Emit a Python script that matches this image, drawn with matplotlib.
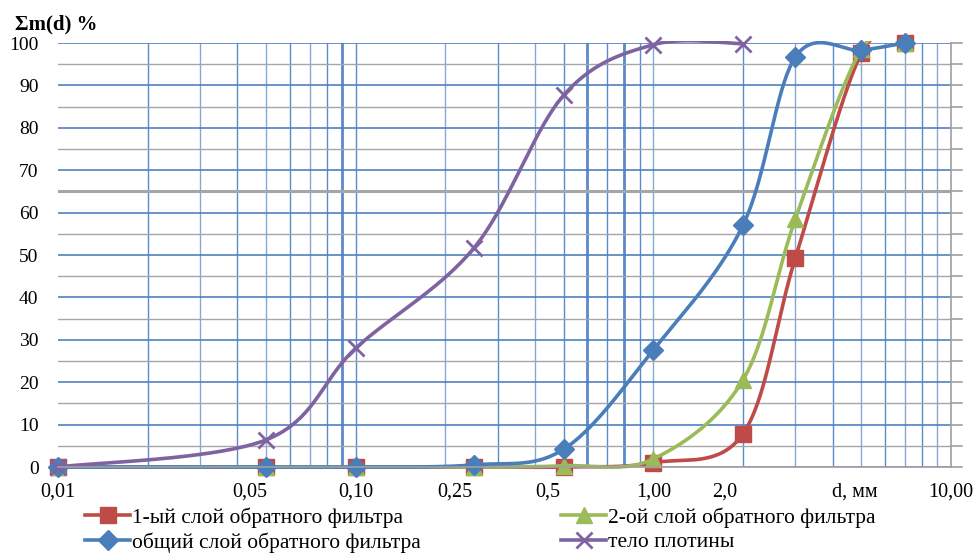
import numpy as np
import matplotlib.pyplot as plt
from matplotlib.lines import Line2D
from matplotlib.patches import Rectangle

plt.rcParams['font.family'] = ['Liberation Serif', 'DejaVu Serif']

# sieve sizes, mm
d = [0.01, 0.05, 0.10, 0.25, 0.5, 1.0, 2.0, 3.0, 5.0, 7.0]
layer1 = [0, 0, 0, 0, 0, 1.0, 7.8, 49.3, 97.6, 100]
layer2 = [0, 0, 0, 0, 0.3, 1.9, 20.5, 58.5, 98.5, 100]
common = [0, 0, 0, 0.5, 4.2, 27.6, 57.0, 96.7, 98.3, 100]
d_body = [0.01, 0.05, 0.10, 0.25, 0.5, 1.0, 2.0]
body = [0, 6.4, 28.0, 51.7, 87.7, 99.6, 99.8]

names = ["1-ый слой обратного фильтра", "общий слой обратного фильтра",
         "2-ой слой обратного фильтра", "тело плотины"]

xlab_pos = [0.01, 0.0442, 0.10, 0.2156, 0.4426, 1.0, 1.74, 4.76, 10.0]
xlab_txt = ["0,01", "0,05", "0,10", "0,25", "0,5", "1,00", "2,0", "d, мм", "10,00"]

RED, GREEN, BLUE, PURPLE = '#be4b48', '#9bbb59', '#4a7ebb', '#7f63a1'
GRID = '#5b8bc9'


def smooth(x, y, n=40):
    # excel-like smoothed line, built in screen-ish units
    u = (np.log10(x) + 2) / 3 * 893
    v = np.asarray(y, float) * 4.24
    p = np.column_stack([u, v])
    segs = []
    t = np.linspace(0, 1, n)[:, None]
    for i in range(len(p) - 1):
        p0 = p[max(i - 1, 0)]
        p1, p2 = p[i], p[i + 1]
        p3 = p[min(i + 2, len(p) - 1)]
        c1 = p1 + (p2 - p0) / 6
        c2 = p2 - (p3 - p1) / 6
        segs.append((1 - t) ** 3 * p1 + 3 * (1 - t) ** 2 * t * c1
                    + 3 * (1 - t) * t ** 2 * c2 + t ** 3 * p2)
    s = np.vstack(segs)
    return 10 ** (s[:, 0] / 893 * 3 - 2), s[:, 1] / 4.24


fig = plt.figure(figsize=(9.75, 5.53), dpi=100)
ax = fig.add_axes([58 / 975, 86 / 553, 893 / 975, 424 / 553])
ax.set_xscale('log')
ax.set_xlim(0.01, 10)
ax.set_ylim(0, 100)

# grid
ax.set_yticks(range(0, 101, 10))
ax.set_yticks(range(5, 100, 10), minor=True)
ax.yaxis.grid(True, which='major', color='#4f81bd', lw=1.2)
ax.yaxis.grid(True, which='minor', color='#a6a6a6', lw=1.0)
ax.axhline(65, color='#a6a6a6', lw=2.2, zorder=0.6)
vgrid = [k * 10.0 ** e for e in (-2, -1, 0) for k in range(1, 10)][1:]
for i, xv in enumerate(vgrid):
    ax.axvline(xv, color=GRID, lw=1.0, alpha=0.75 if i % 2 else 1.0, zorder=0.5)
for xv in (0.09, 0.6, 0.8):
    ax.axvline(xv, color=GRID, lw=2.0, zorder=0.5)
ax.set_axisbelow(True)

ax.set_xticks(xlab_pos, labels=xlab_txt)
ax.xaxis.set_minor_locator(plt.NullLocator())
ax.tick_params(axis='x', length=0, pad=11, labelsize=14.5)
ax.tick_params(axis='y', which='both', length=0, pad=14, labelsize=14)

for s in ('left', 'top'):
    ax.spines[s].set_visible(False)
for s in ('right', 'bottom'):
    ax.spines[s].set_color('#a0a0a0')
    ax.spines[s].set_linewidth(1.2)
for yv in range(0, 101, 5):
    ax.plot([1.0, 1.012], [yv, yv], transform=ax.get_yaxis_transform(),
            color='#a0a0a0', lw=1.2, clip_on=False)

# clip a little above the plot area so lines hugging 100 % stay visible
clip = Rectangle((0, -0.01), 1, 1.015, transform=ax.transAxes)

series = [
    (d, layer1, RED, 's', 12, 1),
    (d, layer2, GREEN, '^', 12, 1),
    (d, common, BLUE, 'D', 10, 1),
    (d_body, body, PURPLE, 'x', 11, 2),
]
for xs, ys, c, m, ms, mew in series:
    sx, sy = smooth(xs, ys)
    ln, = ax.plot(sx, sy, color=c, lw=2.6, solid_capstyle='round')
    ln.set_clip_path(clip)
    ax.plot(xs, ys, ls='none', marker=m, ms=ms, color=c, mec=c, mew=mew,
            clip_on=False)

handles = [
    Line2D([], [], color=RED, lw=2.6, marker='s', ms=12),
    Line2D([], [], color=BLUE, lw=2.6, marker='D', ms=10),
    Line2D([], [], color=GREEN, lw=2.6, marker='^', ms=12),
    Line2D([], [], color=PURPLE, lw=2.6, marker='x', ms=11, mew=2),
]
fig.legend(handles, names, ncol=2, loc='upper left',
           bbox_to_anchor=(85 / 975, 1 - 507 / 553), frameon=False,
           fontsize=15.5, handlelength=2.1, handletextpad=0.1,
           columnspacing=6.5, labelspacing=0.22, borderpad=0,
           borderaxespad=0)

fig.text(15 / 975, 1 - 24 / 553, "Σm(d) %", fontsize=15, fontweight='bold',
         va='center', ha='left')

fig.savefig('out.png', dpi=100)
